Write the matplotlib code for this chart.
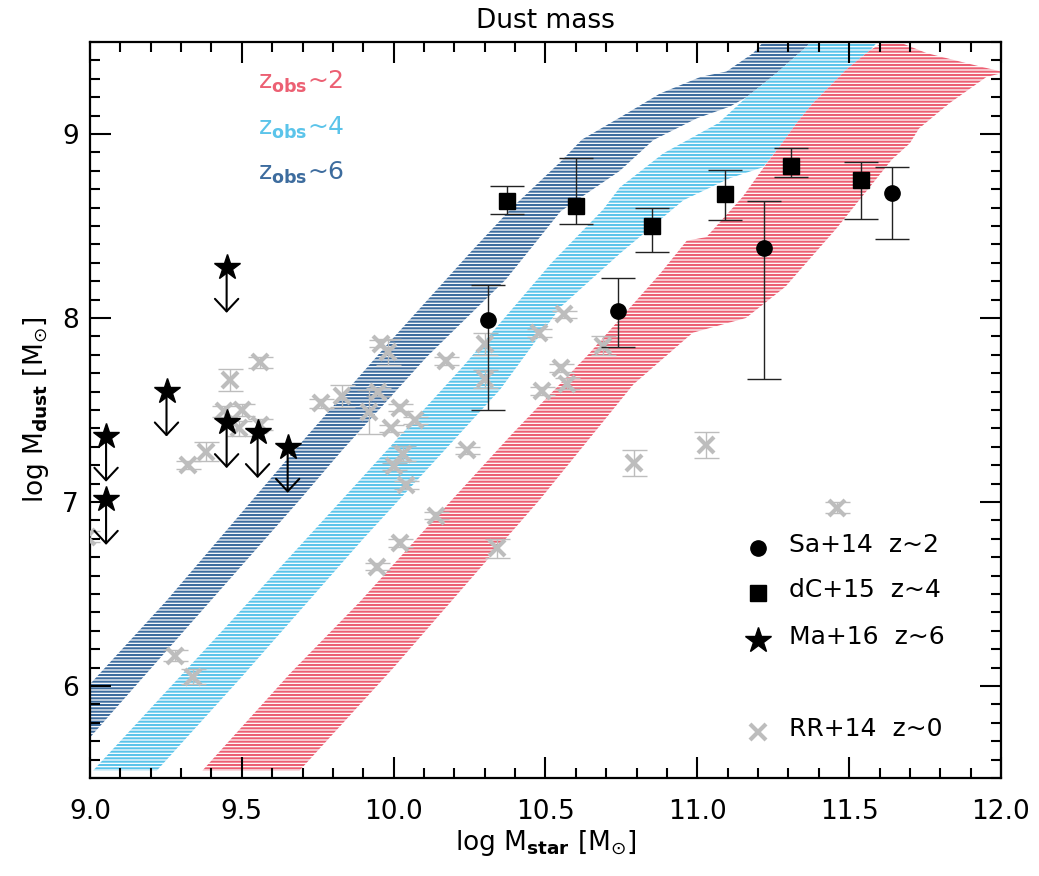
import matplotlib
matplotlib.use("Agg")
import matplotlib.pyplot as plt
from matplotlib.ticker import MultipleLocator, FormatStrFormatter

# model bands (upper / lower edges)
z6_up_x = [9.0, 9.25, 9.71, 9.965, 10.26, 10.39, 10.55, 10.62, 10.745, 10.877, 11.01, 11.096, 11.184, 11.217, 11.25]
z6_up_y = [6.01, 6.46, 7.35, 7.83, 8.37, 8.60, 8.85, 8.97, 9.09, 9.22, 9.31, 9.34, 9.44, 9.50, 9.58]
z6_lo_x = [9.0, 9.69, 9.83, 10.11, 10.37, 10.55, 10.745, 10.855, 10.998, 11.107, 11.162, 11.26, 11.36, 11.40]
z6_lo_y = [5.72, 7.01, 7.28, 7.79, 8.21, 8.58, 8.80, 8.967, 9.085, 9.149, 9.20, 9.33, 9.475, 9.55]

z4_up_x = [9.01, 9.43, 9.856, 10.23, 10.52, 10.69, 10.745, 10.888, 11.07, 11.162, 11.26, 11.36, 11.40]
z4_up_y = [5.54, 6.29, 7.06, 7.74, 8.30, 8.59, 8.71, 8.895, 9.06, 9.20, 9.33, 9.475, 9.55]
z4_lo_x = [9.22, 9.5, 9.90, 10.195, 10.35, 10.55, 10.745, 10.954, 11.107, 11.217, 11.27, 11.327, 11.38, 11.49, 11.57, 11.62]
z4_lo_y = [5.54, 6.05, 6.80, 7.33, 7.61, 8.06, 8.35, 8.64, 8.76, 8.82, 8.93, 9.06, 9.167, 9.35, 9.457, 9.55]

z2_up_x = [9.37, 9.66, 9.89, 10.13, 10.39, 10.64, 10.877, 10.965, 11.03, 11.15, 11.228, 11.27, 11.327, 11.38,
           11.49, 11.57, 11.634, 11.755, 11.887, 12.0]
z2_up_y = [5.54, 6.07, 6.46, 6.90, 7.37, 7.80, 8.24, 8.42, 8.44, 8.66, 8.84, 8.93, 9.06, 9.167,
           9.35, 9.457, 9.52, 9.44, 9.385, 9.34]
z2_lo_x = [9.69, 10.0, 10.39, 10.48, 10.79, 10.985, 11.16, 11.29, 11.46, 11.64, 11.70, 11.73, 11.83, 11.952, 12.0]
z2_lo_y = [5.54, 6.10, 6.84, 7.01, 7.64, 7.92, 8.00, 8.17, 8.49, 8.86, 8.95, 9.03, 9.167, 9.31, 9.33]

# Santini+14 z~2
sa_x = [10.31, 10.74, 11.22, 11.64]
sa_y = [7.99, 8.04, 8.378, 8.68]
sa_elo = [0.49, 0.20, 0.71, 0.25]
sa_ehi = [0.19, 0.18, 0.26, 0.14]

# da Cunha+15 z~4
dc_x = [10.372, 10.60, 10.85, 11.09, 11.31, 11.54]
dc_y = [8.635, 8.61, 8.50, 8.673, 8.826, 8.75]
dc_elo = [0.07, 0.10, 0.14, 0.14, 0.06, 0.21]
dc_ehi = [0.08, 0.26, 0.10, 0.13, 0.10, 0.10]

# Mancini+16 z~6 (upper limits)
ma_x = [9.053, 9.053, 9.252, 9.45, 9.45, 9.552, 9.651]
ma_y = [7.36, 7.017, 7.606, 8.278, 7.434, 7.38, 7.30]

# Remy-Ruyer+14 z~0
rr_x = [8.99, 9.28, 9.338, 9.322, 9.382, 9.442, 9.461, 9.49, 9.50, 9.56, 9.56, 9.762, 9.83, 9.92,
        9.944, 9.949, 9.96, 9.982, 9.99, 10.002, 10.02, 10.02, 10.032, 10.04, 10.07, 10.14, 10.171,
        10.24, 10.30, 10.30, 10.34, 10.48, 10.49, 10.55, 10.56, 10.572, 10.69, 10.79, 11.03, 11.46]
rr_y = [6.81, 6.164, 6.05, 7.202, 7.274, 7.494, 7.661, 7.40, 7.50, 7.76, 7.42, 7.537, 7.574, 7.488,
        6.648, 7.597, 7.86, 7.815, 7.40, 7.194, 7.512, 6.777, 7.262, 7.093, 7.443, 6.926, 7.766,
        7.28, 7.86, 7.67, 6.748, 7.918, 7.603, 7.728, 8.02, 7.643, 7.85, 7.21, 7.31, 6.968]
rr_err = [0.03, 0.03, 0.04, 0.02, 0.05, 0.03, 0.06, 0.04, 0.035, 0.03, 0.03, 0.025, 0.06, 0.12,
          0.02, 0.02, 0.02, 0.07, 0.02, 0.02, 0.02, 0.02, 0.04, 0.02, 0.02, 0.02, 0.02,
          0.02, 0.06, 0.05, 0.05, 0.02, 0.02, 0.02, 0.02, 0.03, 0.05, 0.07, 0.07, 0.03]

c_red = "#ec6073"
c_lblue = "#5bc4ea"
c_dblue = "#3d6c9e"
c_grey = "#bdbdbd"

plt.rcParams['hatch.linewidth'] = 1.5
plt.rcParams['mathtext.fontset'] = 'dejavusans'

fig = plt.figure(figsize=(10.39, 8.76), dpi=100)
ax = fig.add_axes([0.0866, 0.1119, 0.8768, 0.8401])

bands = [(z6_up_x, z6_up_y, z6_lo_x, z6_lo_y, c_dblue),
         (z4_up_x, z4_up_y, z4_lo_x, z4_lo_y, c_lblue),
         (z2_up_x, z2_up_y, z2_lo_x, z2_lo_y, c_red)]
for ux, uy, lx, ly, c in bands:
    ax.fill(ux + lx[::-1], uy + ly[::-1], facecolor='none', edgecolor=c,
            hatch='-----', linewidth=0, zorder=1)

# z~0 local galaxies
ax.errorbar(rr_x, rr_y, yerr=rr_err, fmt='none', ecolor=c_grey,
            elinewidth=1.0, capsize=9, capthick=1.0, zorder=3)
ax.plot(rr_x, rr_y, 'x', color=c_grey, ms=11, mew=3, zorder=3)

# high-z observations
ax.errorbar(sa_x, sa_y, yerr=[sa_elo, sa_ehi], fmt='o', color='black', ms=11,
            ecolor='#222222', elinewidth=1.0, capsize=12, capthick=1.0, zorder=4)
ax.errorbar(dc_x, dc_y, yerr=[dc_elo, dc_ehi], fmt='s', color='black', ms=11.5,
            ecolor='#222222', elinewidth=1.0, capsize=12, capthick=1.0, zorder=4)
for x, y in zip(ma_x, ma_y):
    ax.annotate('', xy=(x, y - 0.25), xytext=(x, y),
                arrowprops=dict(arrowstyle='->,head_length=0.45,head_width=0.42',
                                mutation_scale=20, lw=1.5, color='black',
                                shrinkA=0, shrinkB=0), zorder=4)
ax.plot(ma_x, ma_y, '*', color='black', ms=19, zorder=5)

ax.set_xlim(9.0, 12.0)
ax.set_ylim(5.5, 9.5)
ax.xaxis.set_major_locator(MultipleLocator(0.5))
ax.xaxis.set_minor_locator(MultipleLocator(0.1))
ax.yaxis.set_major_locator(MultipleLocator(1))
ax.yaxis.set_minor_locator(MultipleLocator(0.1))
ax.xaxis.set_major_formatter(FormatStrFormatter('%.1f'))
ax.yaxis.set_major_formatter(FormatStrFormatter('%d'))
ax.tick_params(which='both', direction='in', top=True, right=True, width=1.5, colors='black')
ax.tick_params(which='major', length=15, labelsize=19)
ax.tick_params(which='minor', length=7)
ax.tick_params(axis='x', pad=15)
ax.tick_params(axis='y', pad=8)
for s in ax.spines.values():
    s.set_linewidth(1.6)

ax.set_xlabel(r'log $\mathrm{M}_{\mathbf{star}}$ [$\mathrm{M}_{\odot}$]', fontsize=19, labelpad=2)
ax.set_ylabel(r'log $\mathrm{M}_{\mathbf{dust}}$ [$\mathrm{M}_{\odot}$]', fontsize=19, labelpad=8)
ax.set_title('Dust mass', fontsize=19, pad=10)

# model labels
zlabels = [r'z$_{\mathbf{obs}}$~2', r'z$_{\mathbf{obs}}$~4', r'z$_{\mathbf{obs}}$~6']
zcols = [c_red, c_lblue, c_dblue]
for i, (t, c) in enumerate(zip(zlabels, zcols)):
    ax.text(0.184, 0.9457 - i * 0.0617, t, color=c, fontsize=18, va='center', ha='left',
            transform=ax.transAxes)

# legend for the data
leg_labels = ['Sa+14  z~2', 'dC+15  z~4', 'Ma+16  z~6', 'RR+14  z~0']
leg_marks = [dict(marker='o', color='black', ms=11),
             dict(marker='s', color='black', ms=11.5),
             dict(marker='*', color='black', ms=19),
             dict(marker='x', color=c_grey, ms=11, mew=3)]
leg_rows = [0.313, 0.252, 0.188, 0.063]
for lab, mk, yy in zip(leg_labels, leg_marks, leg_rows):
    ax.plot([0.733], [yy], linestyle='none', transform=ax.transAxes, clip_on=False, **mk)
    ax.text(0.767, yy + 0.004, lab, fontsize=18, va='center', ha='left', transform=ax.transAxes)

fig.savefig('out.png', dpi=100)
